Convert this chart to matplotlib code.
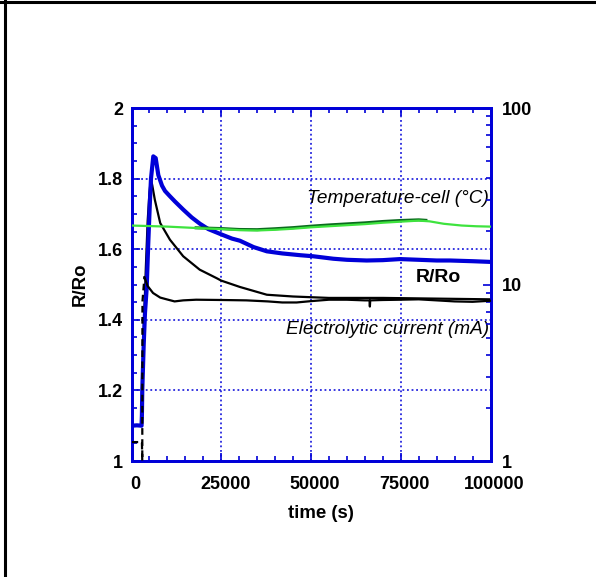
import matplotlib
matplotlib.use('agg')
import matplotlib.pyplot as plt
import matplotlib.ticker as mticker
import matplotlib.transforms as mtransforms
from matplotlib.lines import Line2D
import numpy as np

plt.rcParams['font.family'] = ['Liberation Sans', 'DejaVu Sans']

# R/Ro of the sample (left axis)
t_rr = [0, 1500, 2800, 2900, 3000, 3400, 3760, 4230, 4680, 5150, 5430, 6070, 6740,
        7470, 8500, 9330, 10700, 12120, 14430, 16770, 19080, 21400, 25000, 28000,
        30200, 34000, 37700, 42000, 47000, 50600, 56200, 60000, 65500, 70000,
        74800, 80000, 85000, 88700, 95000, 100000]
rr = [1.100, 1.101, 1.100, 1.13, 1.20, 1.33, 1.42, 1.49, 1.62, 1.74, 1.80, 1.863,
      1.858, 1.81, 1.78, 1.765, 1.75, 1.735, 1.712, 1.69, 1.672, 1.657, 1.642,
      1.630, 1.624, 1.606, 1.594, 1.588, 1.583, 1.580, 1.573, 1.570, 1.568, 1.569,
      1.572, 1.570, 1.568, 1.568, 1.566, 1.564]

# second R/Ro trace (black)
t_rr2 = [3100, 3500, 4000, 4500, 5000, 5400, 5800, 6500, 8000, 10700, 14400, 19000,
         23700, 25000, 30200, 37700, 45000, 55000, 70000, 85000, 100000]
rr2 = [1.25, 1.40, 1.55, 1.68, 1.76, 1.80, 1.78, 1.74, 1.674, 1.627, 1.58, 1.542,
       1.518, 1.511, 1.493, 1.471, 1.466, 1.462, 1.462, 1.460, 1.458]

# electrolytic current, mA (right axis)
t_cur = [0, 1500, 2900, 3000, 3050, 3600, 4500, 6000, 8000, 9800, 12000, 14400,
         18000, 25000, 32000, 38000, 42000, 46000, 50000, 55000, 60000, 65000,
         66300, 66400, 66500, 70000, 75000, 80000, 85000, 90000, 95000, 100000]
cur = [1.28, 1.28, 1.28, 1.0, 8.0, 11.0, 9.8, 8.95, 8.43, 8.24, 8.02, 8.13,
       8.20, 8.17, 8.13, 8.02, 7.91, 7.91, 8.05, 8.20, 8.20, 8.13, 8.13, 7.5, 8.13,
       8.17, 8.20, 8.24, 8.13, 8.02, 7.98, 8.09]
n_step = 6  # points up to the switch-on peak, drawn dashed

# cell temperature, degC (right axis)
t_temp = [0, 10000, 20000, 25000, 30000, 35000, 40000, 45000, 50000, 55000, 60000,
          65000, 70000, 75000, 80000, 83000, 87000, 92000, 96000, 100000]
temp = [21.58, 21.28, 20.80, 20.61, 20.32, 20.23, 20.42, 20.70, 21.09, 21.38, 21.68,
        21.98, 22.39, 22.70, 23.01, 22.80, 22.08, 21.58, 21.38, 21.28]

t_temp2 = [18000, 25000, 30000, 35000, 40000, 45000, 50000, 55000, 60000, 65000,
           70000, 75000, 80000, 82000]
temp2 = [20.95, 20.75, 20.50, 20.45, 20.70, 21.00, 21.40, 21.75, 22.05, 22.35,
         22.75, 23.05, 23.25, 23.10]

blue = '#0000d8'
fs = 13

fig = plt.figure(figsize=(5.96, 5.77), dpi=100)
ax = fig.add_axes([131.5/596, 1-461/577, 359/596, 353/577])
ax2 = ax.twinx()

ax.plot(t_rr, rr, color=blue, lw=3.0, zorder=4)
ax.plot(t_rr2, rr2, color='k', lw=1.6, zorder=3)
ax2.plot(t_temp2, temp2, color='#0b6b1e', lw=2.2, zorder=2)
ax2.plot(t_temp, temp, color='#3ee33e', lw=1.6, zorder=3)
ax2.plot(t_cur[:n_step], cur[:n_step], color='k', lw=1.6, ls=(0, (3, 2)), zorder=3)
ax2.plot(t_cur[n_step-1:], cur[n_step-1:], color='k', lw=1.6, zorder=3)

ax.set_xlim(0, 100000)
ax.set_ylim(1, 2)
ax2.set_yscale('log')
ax2.set_ylim(1, 100)

ax.xaxis.set_major_locator(mticker.MultipleLocator(25000))
ax.xaxis.set_minor_locator(mticker.MultipleLocator(5000))
ax.yaxis.set_major_locator(mticker.MultipleLocator(0.2))
ax.yaxis.set_minor_locator(mticker.MultipleLocator(0.05))
ax.yaxis.set_major_formatter(mticker.FuncFormatter(lambda v, p: f'{v:g}'))
ax2.yaxis.set_major_locator(mticker.LogLocator(base=10, numticks=5))
ax2.yaxis.set_minor_locator(mticker.LogLocator(base=10, subs=np.arange(2, 10), numticks=10))
ax2.yaxis.set_major_formatter(mticker.FuncFormatter(lambda v, p: f'{v:g}'))
ax2.yaxis.set_minor_formatter(mticker.NullFormatter())

ax.grid(True, which='major', color=blue, ls=(0, (1.2, 1.8)), lw=1.1)
ax.tick_params(which='both', direction='in', colors=blue, labelcolor='k',
               top=True, labelsize=fs, width=1.2)
ax.tick_params(which='major', length=6)
ax.tick_params(which='minor', length=3.5)
ax.tick_params(axis='y', pad=6)
ax.tick_params(axis='x', pad=11)
ax2.tick_params(which='both', direction='in', colors=blue, labelcolor='k',
                labelsize=fs, width=1.2, pad=8)
ax2.tick_params(which='major', length=6)
ax2.tick_params(which='minor', length=3.5)
for a in (ax, ax2):
    for sp in a.spines.values():
        sp.set_color(blue)
        sp.set_linewidth(2)
    for lab in a.get_xticklabels() + a.get_yticklabels():
        lab.set_fontweight('bold')

shift = mtransforms.ScaledTranslation(4/100, 0, fig.dpi_scale_trans)
for lab in ax.get_xticklabels():
    lab.set_transform(lab.get_transform() + shift)

ax.set_xlabel('time (s)', fontsize=13.4, fontweight='bold')
ax.xaxis.set_label_coords(0.528, -0.125)
ax.set_ylabel('R/Ro', fontsize=13.4, fontweight='bold')
ax.yaxis.set_label_coords(-0.12, 0.5)

ax.text(99600, 1.743, 'Temperature-cell (\u00b0C)', fontsize=13.7, style='italic',
        ha='right', va='center', zorder=6)
ax.text(85400, 1.519, 'R/Ro', fontsize=14, fontweight='bold',
        ha='center', va='center', zorder=6)
ax.text(99600, 1.372, 'Electrolytic current (mA)', fontsize=13.7, style='italic',
        ha='right', va='center', zorder=6)

# page frame
fig.add_artist(Line2D([0, 1], [1-1.5/577, 1-1.5/577], color='k', lw=2.2,
                      transform=fig.transFigure))
fig.add_artist(Line2D([4.5/596, 4.5/596], [0, 1], color='k', lw=2.2,
                      transform=fig.transFigure))

plt.savefig('out.png', dpi=100)
